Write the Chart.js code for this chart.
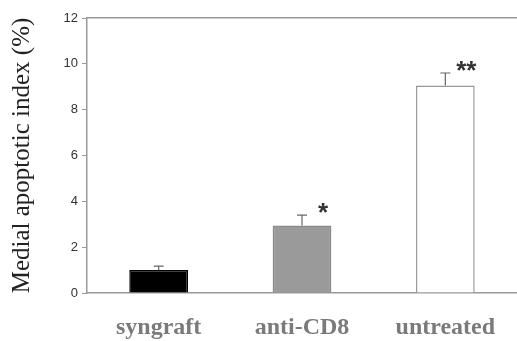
<!DOCTYPE html>
<html>
<head>
<meta charset="utf-8">
<script src="https://cdn.jsdelivr.net/npm/chart.js@4.4.1/dist/chart.umd.min.js"></script>
<style>
  html, body { margin: 0; padding: 0; background: #fff; }
  #wrap { width: 517px; height: 341px; position: relative; }
</style>
</head>
<body>
<div id="wrap"><canvas id="apoptosisChart"></canvas></div>
<script>
// values
const groups = ["syngraft", "anti-CD8", "untreated"];
const meanIndex = [1.0, 2.95, 9.05];
const sdIndex = [0.17, 0.45, 0.55];
const significance = ["", "*", "**"];
const yTicks = [0, 2, 4, 6, 8, 10, 12];

const barFill = ["#000000", "#9a9a9a", "#ffffff"];
const barEdge = ["#000000", "#8a8a8a", "#999999"];

// draws the error bar whiskers and the asterisks
const errorBarPlugin = {
    id: "errorBars",
    afterDatasetsDraw(chart) {
        const ctx = chart.ctx;
        const yScale = chart.scales.y;
        const meta = chart.getDatasetMeta(0);
        ctx.save();
        meta.data.forEach((bar, i) => {
            const x = bar.x;
            const yTop = yScale.getPixelForValue(meanIndex[i] + sdIndex[i]);
            const yBar = yScale.getPixelForValue(meanIndex[i]);
            ctx.strokeStyle = "#666";
            ctx.lineWidth = 1.2;
            ctx.beginPath();
            ctx.moveTo(x, yBar);
            ctx.lineTo(x, yTop);
            ctx.moveTo(x - 5, yTop);
            ctx.lineTo(x + 5, yTop);
            ctx.stroke();

            if (significance[i]) {
                ctx.fillStyle = "#333";
                ctx.font = "bold 26px 'Liberation Sans', Arial, sans-serif";
                ctx.textAlign = "center";
                ctx.textBaseline = "alphabetic";
                ctx.fillText(significance[i], x + 21, yTop + 6);
            }
        });
        ctx.restore();
    }
};

const ctx = document.getElementById("apoptosisChart").getContext("2d");
new Chart(ctx, {
    type: "bar",
    data: {
        labels: groups,
        datasets: [{
            data: meanIndex,
            backgroundColor: barFill,
            borderColor: barEdge,
            borderWidth: 1.5,
            barPercentage: 0.41,
            categoryPercentage: 1.0
        }]
    },
    options: {
        responsive: true,
        maintainAspectRatio: false,
        animation: false,
        layout: { padding: { top: 18, right: 0, left: 0, bottom: 0 } },
        plugins: {
            legend: { display: false },
            tooltip: { enabled: false }
        },
        scales: {
            x: {
                position: "bottom",
                grid: { display: false },
                border: { color: "#999", width: 1.5 },
                ticks: {
                    color: "#7a7a7a",
                    padding: 12,
                    font: { family: "'Liberation Serif', 'Times New Roman', serif", size: 24, weight: "bold" }
                },
                afterFit(scale) { scale.height = 48; }
            },
            xTop: {
                position: "top",
                grid: { display: false },
                border: { color: "#999", width: 1.5 },
                ticks: { display: false },
                afterFit(scale) { scale.height = 0; }
            },
            y: {
                min: 0,
                max: 12,
                afterBuildTicks(scale) {
                    scale.ticks = yTicks.map(v => ({ value: v }));
                },
                grid: { drawOnChartArea: false, drawTicks: true, tickLength: 5, color: "#999" },
                border: { color: "#999", width: 1.5 },
                ticks: {
                    color: "#333",
                    padding: 4,
                    font: { family: "'Liberation Sans', Arial, sans-serif", size: 13 }
                },
                title: {
                    display: true,
                    text: "Medial apoptotic index (%)",
                    color: "#222",
                    padding: { top: 7, bottom: 4 },
                    font: { family: "'Liberation Serif', 'Times New Roman', serif", size: 25 }
                },
                afterFit(scale) { scale.width = 87; }
            }
        }
    },
    plugins: [errorBarPlugin]
});
</script>
</body>
</html>
